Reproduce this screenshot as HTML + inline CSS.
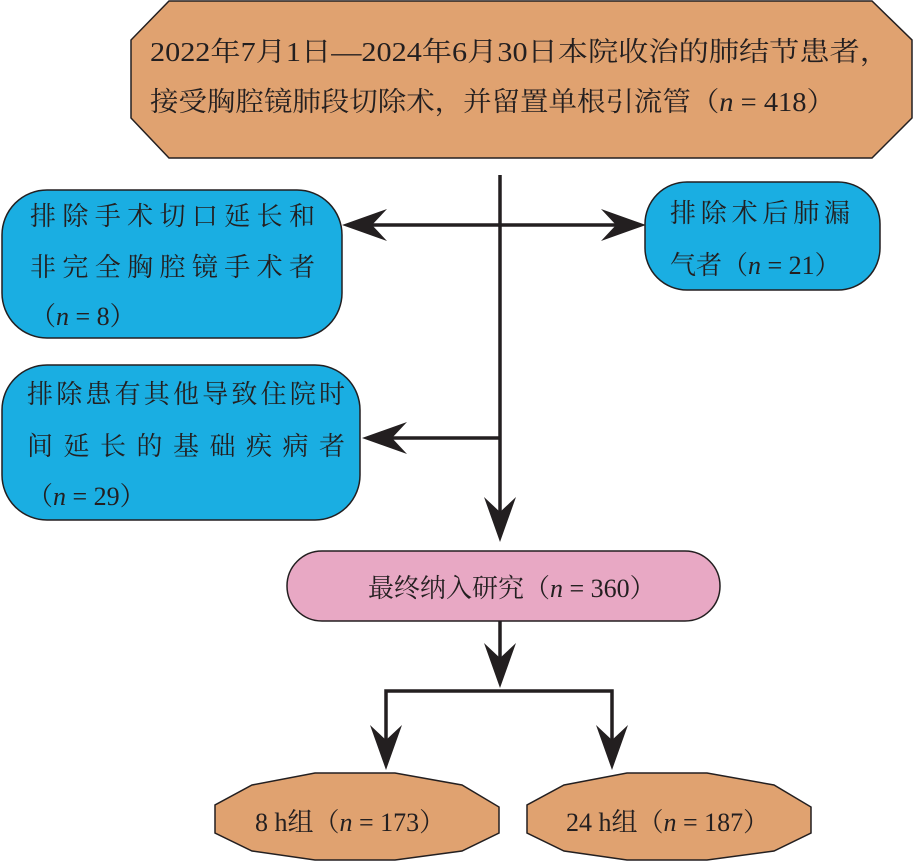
<!DOCTYPE html>
<html><head><meta charset="utf-8"><style>
html,body{margin:0;padding:0;background:#fff;}
svg{display:block}
text{font-family:"Liberation Serif","Noto Serif CJK SC",serif;fill:#231f20;}
</style></head><body>
<svg width="914" height="863" viewBox="0 0 914 863" xmlns="http://www.w3.org/2000/svg">
<defs>
<path id="ah" d="M0,0 L-16,-45 L0,-30 L16,-45 Z" fill="#231f20"/>
</defs>
<!-- top box -->
<polygon points="169,1 872,1 912,40 912,118 872,158 169,158 131,118 131,40" fill="#e0a270" stroke="#231f20" stroke-width="1.5"/>
<text x="150" y="61" font-size="27" textLength="740" lengthAdjust="spacingAndGlyphs">2022年7月1日—2024年6月30日本院收治的肺结节患者，</text>
<text x="150" y="111" font-size="27" textLength="685" lengthAdjust="spacingAndGlyphs">接受胸腔镜肺段切除术，并留置单根引流管（<tspan font-style="italic">n</tspan> = 418）</text>
<!-- lines -->
<g stroke="#231f20" stroke-width="3.5" fill="none">
<line x1="500" y1="175" x2="500" y2="520"/>
<line x1="365" y1="225" x2="625" y2="225"/>
<line x1="500" y1="438" x2="385" y2="438"/>
<line x1="500" y1="620" x2="500" y2="670"/>
<polyline points="386,750 386,691 612,691 612,750"/>
</g>
<use href="#ah" transform="translate(342,225) rotate(90)"/>
<use href="#ah" transform="translate(646,225) rotate(-90)"/>
<use href="#ah" transform="translate(362,438) rotate(90)"/>
<use href="#ah" transform="translate(500,542)"/>
<use href="#ah" transform="translate(500,688)"/>
<use href="#ah" transform="translate(386,770)"/>
<use href="#ah" transform="translate(612,770)"/>
<!-- blue boxes -->
<rect x="2" y="190" width="340" height="148" rx="45" fill="#1aaee2" stroke="#231f20" stroke-width="1.5"/>
<text x="30" y="225" font-size="26" textLength="285" lengthAdjust="spacing">排除手术切口延长和</text>
<text x="30" y="276" font-size="26" textLength="285" lengthAdjust="spacing">非完全胸腔镜手术者</text>
<text x="30" y="325" font-size="26">（<tspan font-style="italic">n</tspan> = 8）</text>
<rect x="645" y="182" width="235" height="108" rx="42" fill="#1aaee2" stroke="#231f20" stroke-width="1.5"/>
<text x="670" y="222" font-size="26" textLength="180" lengthAdjust="spacing">排除术后肺漏</text>
<text x="670" y="274" font-size="26">气者（<tspan font-style="italic">n</tspan> = 21）</text>
<rect x="2" y="365" width="358" height="155" rx="45" fill="#1aaee2" stroke="#231f20" stroke-width="1.5"/>
<text x="27" y="403" font-size="26" textLength="318" lengthAdjust="spacing">排除患有其他导致住院时</text>
<text x="27" y="455" font-size="26" textLength="318" lengthAdjust="spacing">间延长的基础疾病者</text>
<text x="27" y="505" font-size="26">（<tspan font-style="italic">n</tspan> = 29）</text>
<!-- pink -->
<rect x="287" y="551" width="433" height="70" rx="35" fill="#e8a8c4" stroke="#231f20" stroke-width="1.5"/>
<text x="368" y="597" font-size="26">最终纳入研究（<tspan font-style="italic">n</tspan> = 360）</text>
<!-- bottom decagons -->
<polygon points="252,785 315,773 395,773 462,785 499,807 499,833 462,851 395,860 315,860 252,851 215,833 215,805" fill="#e0a270" stroke="#231f20" stroke-width="1.5"/>
<text x="255" y="831" font-size="26">8 h组（<tspan font-style="italic">n</tspan> = 173）</text>
<polygon points="564,785 627,773 707,773 774,785 811,807 811,833 774,851 707,860 627,860 564,851 527,833 527,805" fill="#e0a270" stroke="#231f20" stroke-width="1.5"/>
<text x="566" y="831" font-size="26">24 h组（<tspan font-style="italic">n</tspan> = 187）</text>
</svg>
</body></html>
